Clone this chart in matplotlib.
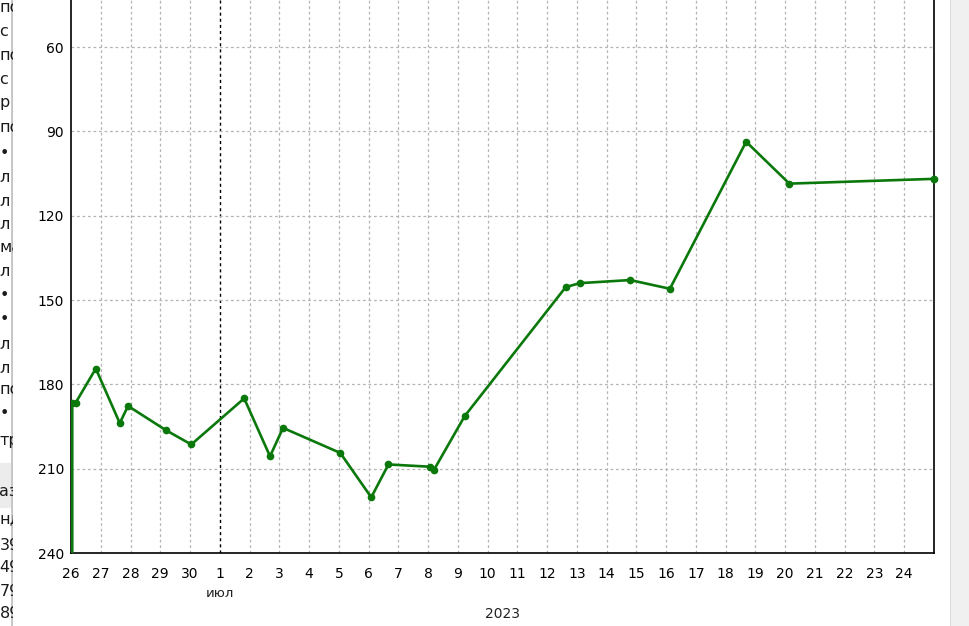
import matplotlib
matplotlib.use("Agg")
import matplotlib.pyplot as plt
import matplotlib.dates as mdates
import numpy as np
from datetime import datetime

# rank history, 2023
times = ["2023-06-26 01:00", "2023-06-26 01:00", "2023-06-26 03:50", "2023-06-26 20:00",
         "2023-06-27 15:20", "2023-06-27 22:00", "2023-06-29 04:30", "2023-06-30 01:00",
         "2023-07-01 19:40", "2023-07-02 16:30", "2023-07-03 03:00", "2023-07-05 01:10",
         "2023-07-06 02:10", "2023-07-06 16:00", "2023-07-08 01:10", "2023-07-08 04:30",
         "2023-07-09 05:30", "2023-07-12 15:00", "2023-07-13 02:25", "2023-07-14 19:00",
         "2023-07-16 03:00", "2023-07-18 16:30", "2023-07-20 03:20", "2023-07-25 00:00"]
rank = [300, 186.5, 186.5, 174.4, 193.8, 187.7, 196.3, 201.4, 185.0, 205.6, 195.5, 204.4,
        220.2, 208.5, 209.3, 210.6, 191.3, 145.4, 144.0, 142.9, 146.0, 93.7, 108.6, 106.9]
yticks = [60, 90, 120, 150, 180, 210, 240]

# cut-off sidebar text on the left edge of the screenshot
side_rows = [8, 31, 55, 79, 103, 128, 153, 177, 201, 224, 247, 271, 295, 320,
             344, 368, 390, 414, 440, 491, 519, 545, 568, 592, 614]
side_text = ["по", "с", "по", "с", "р", "по", "• в", "л (", "л (", "л (", "ма", "л (",
             "• в", "• в", "л (", "л (", "по", "• с", "тр", "аз", "нд", "39", "49", "79", "89"]

W, H = 969, 626
t = [datetime.strptime(s, "%Y-%m-%d %H:%M") for s in times]
green = '#0b780b'

fig = plt.figure(figsize=(W/100, H/100), dpi=100)
fig.patch.set_facecolor('white')

ax = fig.add_axes([71/W, (H-553)/H, (934-71)/W, 553/H])
ax.plot(t, rank, '-o', color=green, lw=1.9, ms=4.5, zorder=5, clip_on=True)
ax.plot(t[-1:], rank[-1:], 'o', color=green, ms=4.5, zorder=6, clip_on=False)

x0, x1 = datetime(2023, 6, 26), datetime(2023, 7, 25)
ax.set_xlim(x0, x1)
ax.set_ylim(240, 60 - 47/84.3*30)

ax.xaxis.set_major_locator(mdates.DayLocator())
ax.xaxis.set_major_formatter(plt.FuncFormatter(lambda v, p: str(mdates.num2date(v).day)))
ax.set_yticks(yticks)
ax.tick_params(axis='both', length=0, labelsize=10, colors='black')
ax.tick_params(axis='x', pad=10)
ax.tick_params(axis='y', pad=5)
ticks = ax.get_xticks()
lbls = ax.get_xticklabels()
# last tick (25) is not labelled in the original
lbls[-1].set_visible(False)

for v in ticks[1:]:
    d = mdates.num2date(v)
    if d.day == 1:
        ax.axvline(v, color='black', lw=1, ls=(0, (2.2, 2.2)), zorder=1)
    elif v < mdates.date2num(x1):
        ax.axvline(v, color='#b4b4b4', lw=0.9, ls=(0, (2.2, 2.2)), zorder=1)
for y in yticks[:-1]:
    ax.axhline(y, color='#b4b4b4', lw=0.9, ls=(0, (2.2, 2.2)), zorder=1)

ax.spines['top'].set_visible(False)
for s in ['left', 'bottom', 'right']:
    ax.spines[s].set_linewidth(1.2)
    ax.spines[s].set_color('black')

ax.annotate("июл", xy=(mdates.date2num(datetime(2023, 7, 1)), 0),
            xycoords=('data', 'axes fraction'), xytext=(0, -29.5), textcoords='offset points',
            ha='center', va='center', fontsize=9.5, color='#222222')
ax.annotate("2023", xy=(0.5, 0), xycoords='axes fraction', xytext=(0, -44),
            textcoords='offset points', ha='center', va='center', fontsize=10, color='#222222')

# left sidebar remnant
sx = fig.add_axes([0, 0, 13/W, 1])
sx.set_xlim(0, 13)
sx.set_ylim(H, 0)
sx.axis('off')
sx.axhspan(463, 507, color='#ececec', zorder=0)
for y, s in zip(side_rows, side_text):
    sx.text(-0.5, y, s, fontsize=11.5, ha='left', va='center', color='#1a1a1a', clip_on=True)
sx.axvline(11.5, color='#c4c4c4', lw=2)

# right scrollbar remnant
rx = fig.add_axes([950/W, 0, 19/W, 1])
rx.set_facecolor('#f0f0f0')
rx.set_xticks([])
rx.set_yticks([])
for s in rx.spines.values():
    s.set_visible(False)
rx.axvline(0, color='#dadada', lw=1.5)

fig.savefig("out.png", dpi=100)
